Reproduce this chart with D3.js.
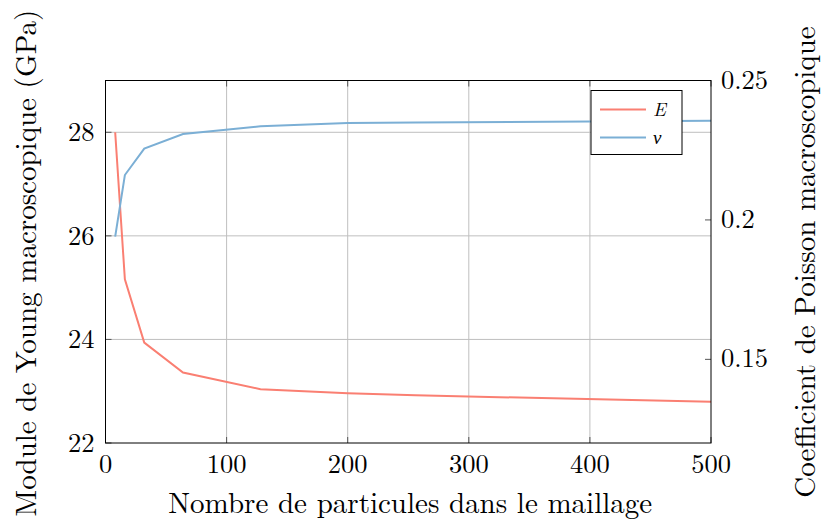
<!DOCTYPE html>
<html>
<head>
<meta charset="utf-8">
<script src="https://cdn.jsdelivr.net/npm/d3@7"></script>
<style>
  body { margin: 0; background: #fff; }
  text { font-family: "Latin Modern Roman", "Liberation Serif", serif; fill: #000; }
</style>
</head>
<body>
<div id="chart"></div>
<script>
// number of particles in the mesh
const particles = [8, 16, 32, 64, 128, 200, 256, 512];
// macroscopic Young modulus (GPa)
const youngE = [28.0, 25.16, 23.94, 23.36, 23.04, 22.96, 22.92, 22.79];
// macroscopic Poisson ratio
const poissonNu = [0.194, 0.2161, 0.2256, 0.2308, 0.2336, 0.2348, 0.2349, 0.2356];

const xTicks = [0, 100, 200, 300, 400, 500];
const leftTicks = [22, 24, 26, 28];
const rightTicks = [0.15, 0.2, 0.25];

const width = 824, height = 522;
const margin = { left: 105.5, right: 113, top: 80.5, bottom: 79 };
const innerW = width - margin.left - margin.right;
const innerH = height - margin.top - margin.bottom;

const svg = d3.select("#chart").append("svg")
    .attr("width", width)
    .attr("height", height);

const g = svg.append("g")
    .attr("transform", `translate(${margin.left},${margin.top})`);

const x = d3.scaleLinear().domain([0, 500]).range([0, innerW]);
const yL = d3.scaleLinear().domain([22, 29]).range([innerH, 0]);
const yR = d3.scaleLinear().domain([0.12, 0.25]).range([innerH, 0]);

// grid
g.append("g").selectAll("line.vx")
    .data(xTicks.slice(1, -1))
    .join("line")
    .attr("x1", d => x(d)).attr("x2", d => x(d))
    .attr("y1", 0).attr("y2", innerH)
    .attr("stroke", "#bfbfbf").attr("stroke-width", 1);

g.append("g").selectAll("line.hy")
    .data(leftTicks.slice(1))
    .join("line")
    .attr("x1", 0).attr("x2", innerW)
    .attr("y1", d => yL(d)).attr("y2", d => yL(d))
    .attr("stroke", "#bfbfbf").attr("stroke-width", 1);

// ticks pointing inward
const tickLen = 6;
const tickColor = "#555";
const tg = g.append("g").attr("stroke", tickColor).attr("stroke-width", 1);
xTicks.forEach(d => {
    tg.append("line").attr("x1", x(d)).attr("x2", x(d)).attr("y1", innerH).attr("y2", innerH - tickLen);
    tg.append("line").attr("x1", x(d)).attr("x2", x(d)).attr("y1", 0).attr("y2", tickLen);
});
leftTicks.forEach(d => {
    tg.append("line").attr("x1", 0).attr("x2", tickLen).attr("y1", yL(d)).attr("y2", yL(d));
});
rightTicks.forEach(d => {
    tg.append("line").attr("x1", innerW).attr("x2", innerW - tickLen).attr("y1", yR(d)).attr("y2", yR(d));
});

// clip for lines
svg.append("defs").append("clipPath").attr("id", "clip")
    .append("rect").attr("width", innerW).attr("height", innerH);

const lineE = d3.line()
    .x((d, i) => x(particles[i]))
    .y(d => yL(d));
const lineNu = d3.line()
    .x((d, i) => x(particles[i]))
    .y(d => yR(d));

const red = "#fa7f72";
const blue = "#7bafd5";

const plot = g.append("g").attr("clip-path", "url(#clip)");
plot.append("path")
    .datum(youngE)
    .attr("d", lineE)
    .attr("fill", "none")
    .attr("stroke", red)
    .attr("stroke-width", 2);
plot.append("path")
    .datum(poissonNu)
    .attr("d", lineNu)
    .attr("fill", "none")
    .attr("stroke", blue)
    .attr("stroke-width", 2);

// frame
g.append("rect")
    .attr("width", innerW).attr("height", innerH)
    .attr("fill", "none").attr("stroke", "#000").attr("stroke-width", 1);

// tick labels
const fs = 26.5;
const titleFs = 29;
g.append("g").selectAll("text")
    .data(xTicks)
    .join("text")
    .attr("x", d => x(d))
    .attr("y", innerH + 30)
    .attr("text-anchor", "middle")
    .attr("font-size", fs)
    .text(d => d);

g.append("g").selectAll("text")
    .data(leftTicks)
    .join("text")
    .attr("x", -11)
    .attr("y", d => yL(d) + 9)
    .attr("text-anchor", "end")
    .attr("font-size", fs)
    .text(d => d);

g.append("g").selectAll("text")
    .data(rightTicks)
    .join("text")
    .attr("x", innerW + 10)
    .attr("y", d => yR(d) + 8)
    .attr("text-anchor", "start")
    .attr("font-size", fs)
    .text(d => d);

// axis titles
svg.append("text")
    .attr("x", margin.left + innerW / 2 + 2)
    .attr("y", 513)
    .attr("text-anchor", "middle")
    .attr("font-size", titleFs)
    .text("Nombre de particules dans le maillage");

svg.append("text")
    .attr("transform", `translate(36,263) rotate(-90)`)
    .attr("text-anchor", "middle")
    .attr("font-size", titleFs)
    .text("Module de Young macroscopique (GPa)");

svg.append("text")
    .attr("transform", `translate(815,262) rotate(-90)`)
    .attr("text-anchor", "middle")
    .attr("font-size", titleFs)
    .text("Coefficient de Poisson macroscopique");

// legend
const lg = svg.append("g").attr("transform", "translate(591,90.5)");
lg.append("rect")
    .attr("width", 91).attr("height", 64)
    .attr("fill", "#fff").attr("stroke", "#000").attr("stroke-width", 1);
const legendItems = [["E", red], ["ν", blue]];
legendItems.forEach((item, i) => {
    const yy = 19 + i * 28;
    lg.append("line")
        .attr("x1", 9).attr("x2", 55)
        .attr("y1", yy).attr("y2", yy)
        .attr("stroke", item[1]).attr("stroke-width", 2);
    lg.append("text")
        .attr("x", 62).attr("y", yy + 6)
        .attr("font-size", 19)
        .attr("font-style", "italic")
        .text(item[0]);
});
</script>
</body>
</html>
